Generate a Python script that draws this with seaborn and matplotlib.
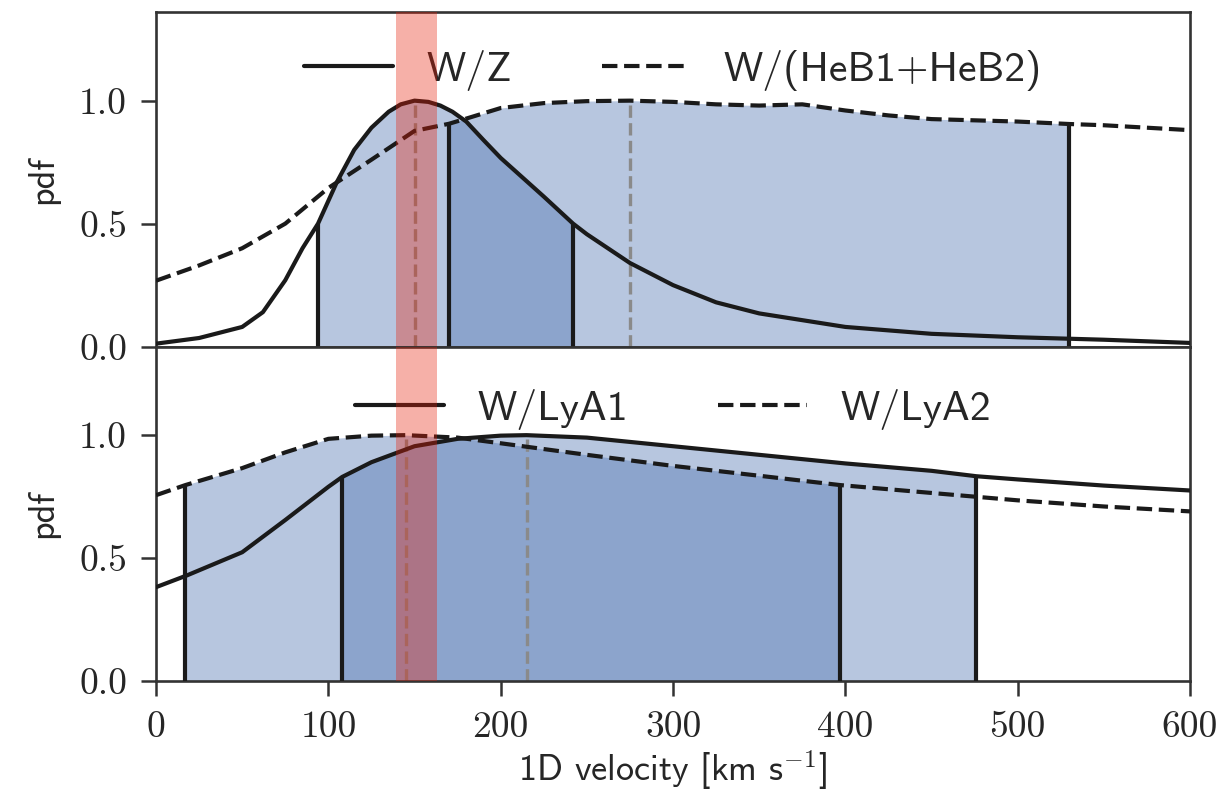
import numpy as np
import seaborn as sns
import matplotlib.pyplot as plt

# top panel: W/Z (solid) and W/(HeB1+HeB2) (dashed)
wz_v = [0, 25, 50, 62, 75, 85, 94, 105, 115, 125, 135, 142, 150, 158, 165, 172, 180, 190,
        200, 225, 242, 250, 275, 300, 325, 350, 400, 450, 500, 550, 600]
wz_pdf = [0.012, 0.035, 0.08, 0.14, 0.27, 0.40, 0.50, 0.67, 0.80, 0.89, 0.955, 0.985, 1.0,
          0.995, 0.98, 0.955, 0.915, 0.84, 0.767, 0.61, 0.50, 0.457, 0.34, 0.25, 0.18,
          0.135, 0.08, 0.052, 0.038, 0.028, 0.015]
heb_v = [0, 25, 50, 75, 100, 125, 150, 170, 180, 200, 225, 250, 275, 300, 325,
         350, 375, 400, 425, 450, 500, 530, 550, 600]
heb_pdf = [0.268, 0.33, 0.40, 0.50, 0.645, 0.76, 0.877, 0.906, 0.927, 0.97, 0.99,
           0.998, 1.0, 0.995, 0.985, 0.98, 0.985, 0.96, 0.94, 0.925, 0.915, 0.905,
           0.90, 0.88]

# bottom panel: W/LyA1 (solid) and W/LyA2 (dashed)
lya1_v = [0, 18, 50, 75, 100, 108, 125, 150, 175, 200, 215, 250, 300, 350, 400,
          450, 476, 500, 550, 600]
lya1_pdf = [0.382, 0.43, 0.524, 0.655, 0.79, 0.83, 0.89, 0.955, 0.985, 0.998, 1.0,
            0.99, 0.955, 0.92, 0.885, 0.855, 0.833, 0.82, 0.795, 0.775]
lya2_v = [0, 17, 50, 75, 100, 125, 145, 175, 200, 250, 300, 350, 397, 450, 500,
          550, 600]
lya2_pdf = [0.756, 0.797, 0.866, 0.93, 0.985, 0.998, 1.0, 0.99, 0.967, 0.92, 0.875,
            0.835, 0.797, 0.765, 0.735, 0.71, 0.69]

# credible intervals (lower, upper) for each curve
wz_range = (94, 242)
heb_range = (170, 530)
lya1_range = (108, 476)
lya2_range = (17, 397)

# observed velocity band
band = (139, 163)

x_ticks = [0, 100, 200, 300, 400, 500, 600]
y_ticks = [0.0, 0.5, 1.0]

sns.set_theme(style='ticks', context='poster')
plt.rcParams['font.family'] = ['cmss10', 'DejaVu Sans']
plt.rcParams['mathtext.fontset'] = 'cm'
plt.rcParams['axes.formatter.use_mathtext'] = True

fill_color = sns.color_palette('deep')[0]
ink = '#262626'


def draw_panel(ax, curves):
    """
    Draw two pdf curves with their shaded intervals, modes and the red band.
    """
    for v, p, rng, ls, lab in curves:
        v = np.array(v)
        p = np.array(p)
        sns.lineplot(x=v, y=p, ax=ax, color='k', linestyle=ls, linewidth=3,
                     label=lab, zorder=4)
        m = (v >= rng[0]) & (v <= rng[1])
        ax.fill_between(v[m], p[m], color=fill_color, alpha=0.4, lw=0, zorder=1)
        tops = [p[v == rng[0]][0], p[v == rng[1]][0]]
        ax.vlines(rng, 0, tops, color='k', lw=3, zorder=3)
        k = np.argmax(p)
        ax.vlines(v[k], 0, p[k], color='#8a8a8a', linestyles='--', lw=2.4, zorder=2)
    ax.axvspan(*band, color='#e81d06', alpha=0.35, lw=0, zorder=10)

    ax.set_xlim(0, 600)
    ax.set_ylim(0, 1.36)
    ax.set_yticks(y_ticks)
    ax.set_yticklabels([f'{t:.1f}' for t in y_ticks])
    ax.set_ylabel('pdf', fontsize=26, color=ink, labelpad=14)
    ax.tick_params(axis='both', labelfontfamily='cmr10', labelsize=27,
                   length=11, width=1.8, pad=10, colors='#333333',
                   labelcolor=ink)
    for s in ax.spines.values():
        s.set_linewidth(1.9)
        s.set_color('#333333')


fig, (ax1, ax2) = plt.subplots(2, 1, sharex=True, figsize=(12.22, 8.07), dpi=100)
fig.subplots_adjust(left=0.1277, right=0.9738, top=0.985, bottom=0.156, hspace=0)

draw_panel(ax1, [(wz_v, wz_pdf, wz_range, '-', 'W/Z'),
                 (heb_v, heb_pdf, heb_range, '--', 'W/(HeB1+HeB2)')])
draw_panel(ax2, [(lya1_v, lya1_pdf, lya1_range, '-', 'W/LyA1'),
                 (lya2_v, lya2_pdf, lya2_range, '--', 'W/LyA2')])

ax1.tick_params(axis='x', bottom=False, labelbottom=False)
ax2.set_xticks(x_ticks)
ax2.set_xticklabels([str(t) for t in x_ticks])
ax2.set_xlabel('1D velocity [km s$^{-1}$]', fontsize=26, color=ink, labelpad=4)

for ax, yc in [(ax1, 0.826), (ax2, 0.8125)]:
    ax.legend(loc='center', bbox_to_anchor=(0.5, yc), ncol=2, frameon=False,
              fontsize=30, handlelength=2.13, handletextpad=0.8,
              columnspacing=2.16, labelcolor=ink)

fig.align_ylabels([ax1, ax2])
fig.savefig('out.png', dpi=100)
